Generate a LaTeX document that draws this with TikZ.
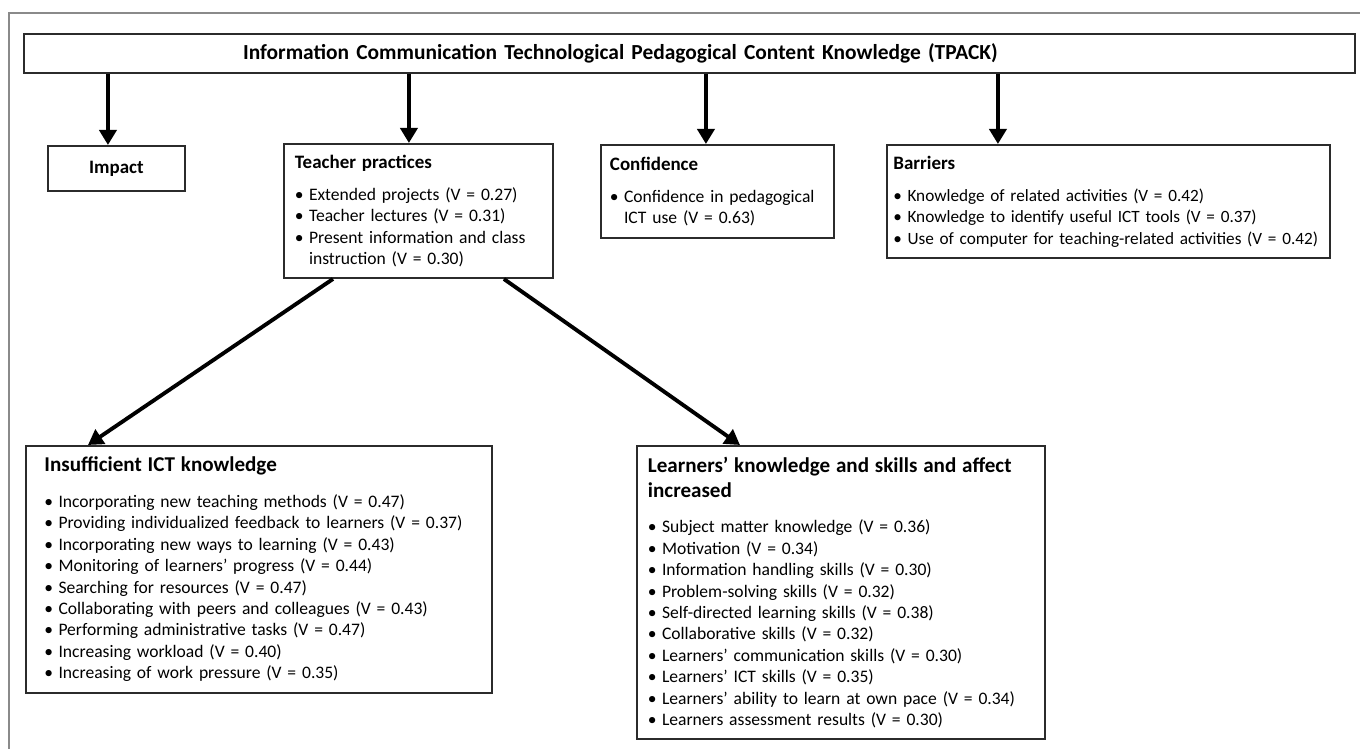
\documentclass[tikz,border=0pt]{standalone}
\usepackage{fontspec}
\setmainfont{Carlito}
\usetikzlibrary{arrows.meta}
\definecolor{tpLine}{HTML}{2B2B2B}
\definecolor{tpFrame}{HTML}{8A8A8A}
\newenvironment{tplist}{\begin{list}{\textbullet}{\setlength\leftmargin{8pt}\setlength\labelwidth{8pt}\setlength\labelsep{0pt}%
  \setlength\itemsep{0pt}\setlength\parsep{0pt}\setlength\topsep{0pt}\setlength\partopsep{0pt}\renewcommand\makelabel[1]{##1\hfil}}}{\end{list}}
\newcommand{\boxhead}[1]{{\fontsize{10.8}{13}\selectfont\bfseries #1\par}\vspace{6pt}}
\newcommand{\bigboxhead}[1]{{\fontsize{12}{14.2}\selectfont\bfseries #1\par}\vspace{8pt}}
\tikzset{
  tp frame/.style={draw=tpFrame, line width=1.1pt},
  tp box/.style={draw=tpLine, line width=1.1pt, anchor=north west, align=left, inner ysep=0.22cm, font=\fontsize{10}{12.2}\selectfont},
  tp head box/.style={draw=tpLine, line width=1.1pt, text width=26.62cm, inner xsep=0pt, align=left, minimum height=0.78cm, font=\fontsize{12.2}{14}\selectfont\bfseries},
  tp arrow/.style={draw=black, line width=2.2pt, -{Triangle[width=0.34cm,length=0.3cm]}},
}

\begin{document}
\begin{tikzpicture}[x=0.02cm, y=-0.02cm]
  \useasboundingbox (0,0) rectangle (1360,749);
  % frame lines (top and left only)
  \draw[tp frame] (1360,13) -- (9,13) -- (9,749);

  % top box
  \node[tp head box] (tpack) at (689.5,53.5) {\hspace*{4.38cm}Information Communication Technological Pedagogical Content Knowledge (TPACK)};

  % first row
  \node[tp box, align=center, minimum width=2.74cm, minimum height=0.9cm, font=\fontsize{10.8}{13}\selectfont\bfseries] (impact) at (47,145) {Impact};
  \node[tp box, text width=4.94cm, inner xsep=0.22cm] (teacher) at (283,143) {%
    \boxhead{Teacher practices}
    \begin{tplist}
      \item Extended projects (V = 0.27)
      \item Teacher lectures (V = 0.31)
      \item Present information and class\newline instruction (V = 0.30)
    \end{tplist}};
  \node[tp box, text width=4.30cm, inner xsep=0.18cm, minimum height=1.86cm] (confidence) at (600,144) {%
    \boxhead{Confidence}
    \begin{tplist}
      \item Confidence in pedagogical\newline ICT use (V = 0.63)
    \end{tplist}};
  \node[tp box, text width=8.6cm, inner xsep=0.13cm, font=\fontsize{9.8}{12.2}\selectfont] (barriers) at (886,144) {%
    \boxhead{Barriers}
    \begin{tplist}
      \item Knowledge of related activities (V = 0.42)
      \item Knowledge to identify useful ICT tools (V = 0.37)
      \item Use of computer for teaching-related activities (V = 0.42)
    \end{tplist}};

  % second row
  \node[tp box, text width=8.58cm, inner xsep=0.37cm] (insufficient) at (25,445) {%
    \bigboxhead{Insufficient ICT knowledge}
    \begin{tplist}
      \item Incorporating new teaching methods (V = 0.47)
      \item Providing individualized feedback to learners (V = 0.37)
      \item Incorporating new ways to learning (V = 0.43)
      \item Monitoring of learners’ progress (V = 0.44)
      \item Searching for resources (V = 0.47)
      \item Collaborating with peers and colleagues (V = 0.43)
      \item Performing administrative tasks (V = 0.47)
      \item Increasing workload (V = 0.40)
      \item Increasing of work pressure (V = 0.35)
    \end{tplist}};
  \node[tp box, text width=7.72cm, inner xsep=0.22cm] (learners) at (636,445) {%
    \bigboxhead{Learners’ knowledge and skills and affect\\increased}
    \begin{tplist}
      \item Subject matter knowledge (V = 0.36)
      \item Motivation (V = 0.34)
      \item Information handling skills (V = 0.30)
      \item Problem-solving skills (V = 0.32)
      \item Self-directed learning skills (V = 0.38)
      \item Collaborative skills (V = 0.32)
      \item Learners’ communication skills (V = 0.30)
      \item Learners’ ICT skills (V = 0.35)
      \item Learners’ ability to learn at own pace (V = 0.34)
      \item Learners assessment results (V = 0.30)
    \end{tplist}};

  % arrow entry points
  \coordinate (impact in) at ([xshift=-0.17cm]impact.north);
  \coordinate (teacher in) at ([xshift=-0.19cm]teacher.north);
  \coordinate (confidence in) at ([xshift=-0.23cm]confidence.north);
  \coordinate (barriers in) at ([xshift=-2.21cm]barriers.north);

  \draw[tp arrow] (tpack.south -| impact in) -- (impact in);
  \draw[tp arrow] (tpack.south -| teacher in) -- (teacher in);
  \draw[tp arrow] (tpack.south -| confidence in) -- (confidence in);
  \draw[tp arrow] (tpack.south -| barriers in) -- (barriers in);

  \draw[tp arrow] ([xshift=1cm]teacher.south west) -- ([xshift=1.26cm]insufficient.north west);
  \draw[tp arrow] ([xshift=-1cm]teacher.south east) -- ([xshift=2.08cm]learners.north west);
\end{tikzpicture}
\end{document}
